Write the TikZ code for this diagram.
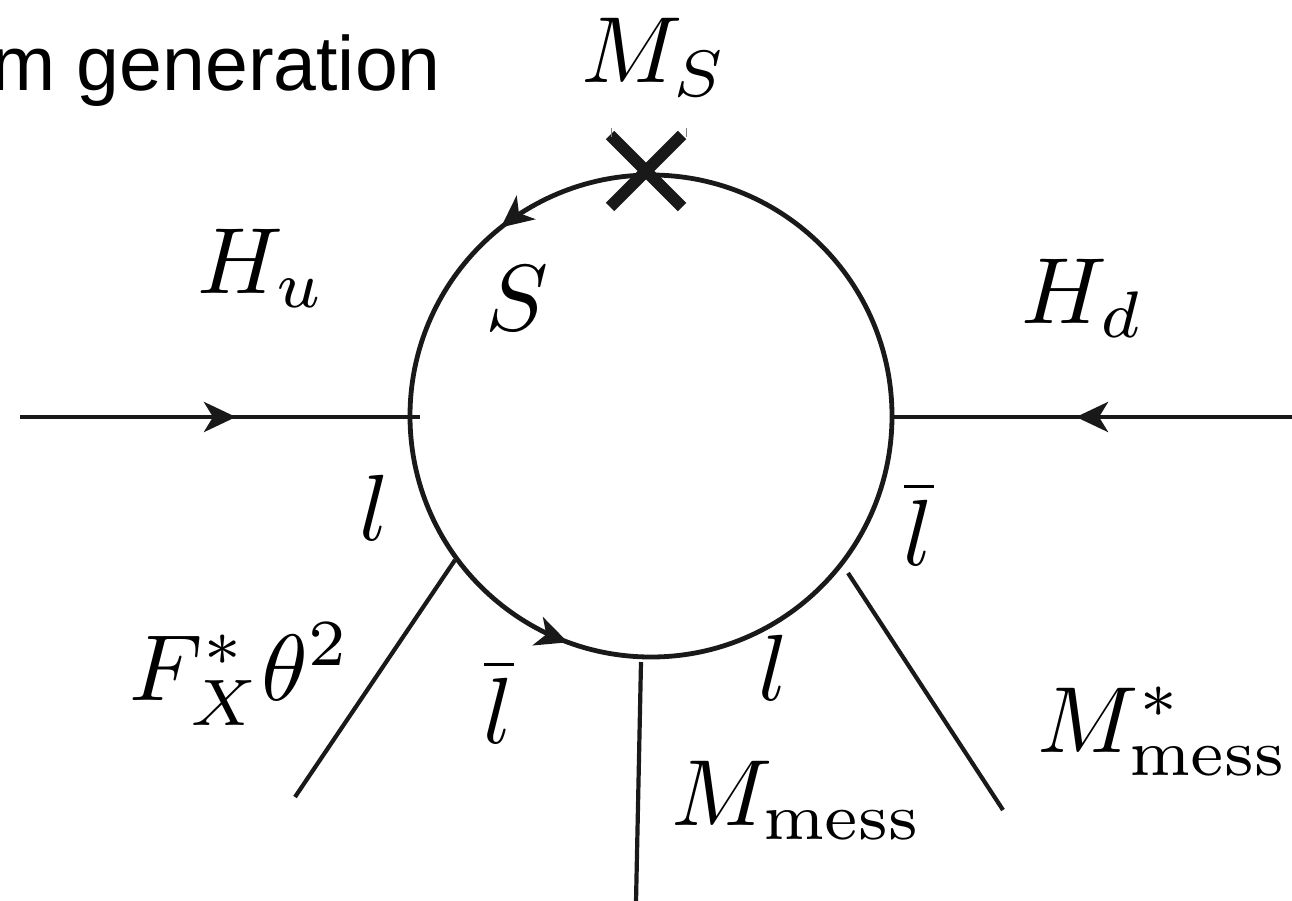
\documentclass[tikz,border=0pt]{standalone}
\usepackage{fontspec}
\newfontfamily\labelsans{Liberation Sans}
\usetikzlibrary{arrows.meta,decorations.markings,calc}
\tikzset{
  prop/.style={line width=4.8pt, draw=black!90},
  leg/.style={line width=4.2pt, draw=black!90},
  fermtip/.tip={Stealth[length=32pt,width=30pt,inset=9pt]},
  lbl/.style={inner sep=0pt, anchor=base west, font=\normalsize, scale=9.4, transform shape},
  crossarm/.style={line width=12pt, draw=black!90},
}
\begin{document}
\begin{tikzpicture}[x=1pt,y=1pt]
\useasboundingbox (0,0) rectangle (1292,-900);
% loop
\coordinate (c) at (651,-416);
\draw[prop, postaction={decorate}, decoration={markings,
  mark=at position 0.357 with {\arrow{fermtip}},
  mark=at position 0.694 with {\arrow{fermtip}}}]
  (c) ++(0:241) arc[start angle=0, end angle=360, radius=241];
% attachment points
\coordinate (inL) at (20,-417);
\coordinate (vL) at (420,-417);
\coordinate (inR) at (1292,-417);
\coordinate (vR) at (892,-417);
\coordinate (aF) at (455,-560);
\coordinate (eF) at (295,-797);
\coordinate (aM) at (641,-662);
\coordinate (eM) at (636,-902);
\coordinate (aS) at (848,-573);
\coordinate (eS) at (1003,-810);
% external lines
\draw[prop] (inL) -- (vL);
\draw[prop, -{fermtip}] (inL) -- ($(inL)!0.54!(vL)$);
\draw[prop] (inR) -- (vR);
\draw[prop, -{fermtip}] (inR) -- ($(inR)!0.54!(vR)$);
\draw[leg] (aF) -- (eF);
\draw[leg] (aM) -- (eM);
\draw[leg] (aS) -- (eS);
% mass insertion cross
\coordinate (x) at (646,-171);
\draw[crossarm] ($(x)+(-36,36)$) -- ($(x)+(36,-36)$);
\draw[crossarm] ($(x)+(36,36)$) -- ($(x)+(-36,-36)$);
\draw[gray, line width=1pt] (611,-128) -- (611,-137);
\draw[gray, line width=1pt] (686,-128) -- (686,-137);
% labels
\node[inner sep=0pt, anchor=base east, font=\labelsans\fontsize{77}{90}\selectfont] (title) at (441,-90) {m generation};
\node[lbl] (lMS) at (580,-82) {$M_S$};
\node[lbl] (lHu) at (196,-293) {$H_u$};
\node[lbl] (lS) at (484,-330) {$S$};
\node[lbl] (lHd) at (1020,-323) {$H_d$};
\node[lbl] (ll1) at (358,-540) {$l$};
\node[lbl] (llb1) at (902,-565) {$\overline{l}$};
\node[lbl] (lF) at (128,-700) {$F_X^*\theta^2$};
\node[lbl] (llb2) at (482,-743) {$\overline{l}$};
\node[lbl] (ll2) at (757,-700) {$l$};
\node[lbl] (lMm) at (670,-825) {$M_{\mathrm{mess}}$};
\node[lbl] (lMms) at (1036,-752) {$M^*_{\mathrm{mess}}$};
\end{tikzpicture}
\end{document}
